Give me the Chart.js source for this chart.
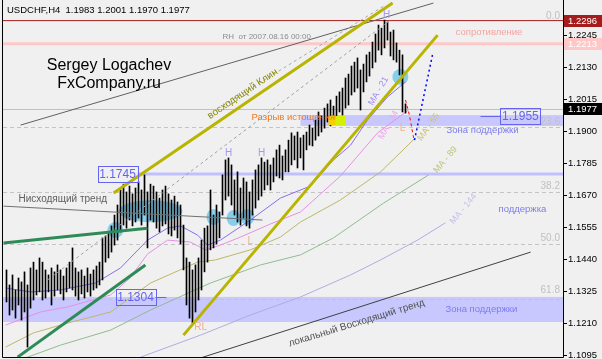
<!DOCTYPE html>
<html>
<head>
<meta charset="utf-8">
<script src="https://cdn.jsdelivr.net/npm/chart.js@4.4.0/dist/chart.umd.min.js"></script>
<style>
  html, body { margin: 0; padding: 0; background: #f0f0f0; }
</style>
</head>
<body>
<canvas id="chart" width="602" height="359"></canvas>
<script>
// H4 bars, index 0 = leftmost visible bar
const highs = [1.1401,1.1347,1.1383,1.1329,1.1372,1.1358,1.1394,1.1347,1.1408,1.1429,
  1.1401,1.1444,1.1429,1.1401,1.1383,1.1408,1.1394,1.1419,1.1401,1.1379,
  1.1408,1.1429,1.1480,1.1408,1.1394,1.1401,1.1379,1.1408,1.1386,1.1401,
  1.1415,1.1429,1.1516,1.1523,1.1537,1.1559,1.1598,1.1634,1.1688,1.1709,
  1.1681,1.1702,1.1674,1.1695,1.1717,1.1688,1.1742,1.1681,1.1709,1.1702,
  1.1681,1.1659,1.1688,1.1702,1.1674,1.1652,1.1666,1.1645,1.1634,1.1562,
  1.1444,1.1429,1.1401,1.1419,1.1444,1.1508,1.1551,1.1559,1.1688,1.1598,
  1.1634,1.1609,1.1742,1.1796,1.1803,1.1778,1.1724,1.1753,1.1695,1.1731,
  1.1717,1.1681,1.1724,1.1760,1.1778,1.1803,1.1788,1.1796,1.1778,1.1803,
  1.1832,1.1849,1.1810,1.1832,1.1867,1.1893,1.1882,1.1896,1.1875,1.1885,
  1.1896,1.1921,1.1910,1.1939,1.1968,1.1954,1.1982,1.1997,1.2011,1.1989,
  1.2025,1.2040,1.2054,1.2090,1.2104,1.2133,1.2147,1.2162,1.2119,1.2140,
  1.2173,1.2183,1.2219,1.2248,1.2280,1.2269,1.2298,1.2291,1.2255,1.2262,
  1.2216,1.2190,1.2173,1.1997];
const lows = [1.1286,1.1239,1.1257,1.1228,1.1275,1.1221,1.1250,1.1124,1.1264,1.1293,
  1.1311,1.1322,1.1293,1.1300,1.1322,1.1275,1.1307,1.1329,1.1315,1.1293,
  1.1322,1.1336,1.1329,1.1307,1.1293,1.1315,1.1300,1.1322,1.1307,1.1329,
  1.1336,1.1347,1.1365,1.1429,1.1444,1.1465,1.1490,1.1508,1.1537,1.1562,
  1.1551,1.1580,1.1559,1.1573,1.1587,1.1562,1.1598,1.1480,1.1580,1.1573,
  1.1551,1.1537,1.1559,1.1566,1.1530,1.1523,1.1544,1.1516,1.1494,1.1401,
  1.1275,1.1228,1.1210,1.1250,1.1293,1.1329,1.1394,1.1429,1.1473,1.1480,
  1.1494,1.1516,1.1598,1.1652,1.1666,1.1634,1.1598,1.1573,1.1562,1.1587,
  1.1559,1.1551,1.1598,1.1623,1.1652,1.1666,1.1688,1.1706,1.1688,1.1717,
  1.1738,1.1731,1.1724,1.1753,1.1753,1.1778,1.1796,1.1767,1.1803,1.1760,
  1.1832,1.1849,1.1846,1.1867,1.1882,1.1896,1.1910,1.1932,1.1918,1.1939,
  1.1946,1.1968,1.1957,1.1982,1.1993,1.2029,1.2040,1.2054,1.1975,1.2040,
  1.2076,1.2097,1.2126,1.2147,1.2190,1.2173,1.2198,1.2226,1.2169,1.2155,
  1.2147,1.2101,1.1968,1.1964];

// moving averages: [bar index, price]
const ma21 = [[-0.3,1.1336],[8,1.1322],[18,1.1329],[29.7,1.1354],[38,1.1408],[47,1.1508],[53.7,1.1551],
  [58,1.1559],[63.7,1.1526],[67,1.1490],[71.3,1.1508],[81.3,1.1580],[91.3,1.1659],[101.3,1.1702],
  [109,1.1796],[114.7,1.1849],[120.3,1.1939],[127,1.2022],[133,1.2076]];
const ma34 = [[-0.3,1.1203],[11.3,1.1250],[20.3,1.1268],[34.7,1.1311],[41,1.1370],[47,1.1458],[53.7,1.1508],
  [61.3,1.1501],[66.3,1.1473],[71.3,1.1490],[78,1.1519],[88,1.1566],[98,1.1609],[111.3,1.1738],
  [123.7,1.1893],[134,1.1975]];
const ma55 = [[-0.3,1.1124],[9,1.1175],[20.3,1.1210],[34.7,1.1250],[48,1.1354],[63.7,1.1429],[69.7,1.1437],
  [81.3,1.1473],[91.3,1.1519],[98,1.1573],[111.3,1.1652],[124.7,1.1753],[136.3,1.1875]];
const ma89 = [[6.3,1.1085],[18,1.1131],[34.7,1.1185],[48,1.1257],[68,1.1354],[84.7,1.1419],[98,1.1455],
  [109,1.1516],[125.7,1.1641],[140.7,1.1742]];
const ma144 = [[44.7,1.1088],[64.7,1.1167],[81.3,1.1239],[98,1.1304],[114.7,1.1383],[124.7,1.1437],
  [137,1.1508],[146.3,1.1570]];

// trend lines
const channelTop = [[4.7,1.1921],[142.3,1.2359]];
const downTrend = [[-1,1.1630],[85.3,1.1580]];
const dashA = [[13.7,1.1365],[128,1.2298]];
const dashB = [[72,1.1990],[126.3,1.2352]];
const wedgeUpper = [[35.7,1.1677],[128.7,1.2359]];
const wedgeLower = [[59,1.1167],[143.7,1.2244]];
const greenUpper = [[-1,1.1498],[47,1.1551]];
const greenLower = [[3.7,1.1088],[46.3,1.1419]];
const localUp = [[64.7,1.1085],[174.7,1.1465]];
const redPath = [[133,1.2011],[134.3,1.1957],[135.7,1.1875]];
const bluePath = [[136,1.1867],[142,1.2173]];

// price levels
const lastHigh = 1.2296;
const resistance = 1.2213;
const lastPrice = 1.1977;
const level1745 = 1.1745;
const fibLevels = [1.1913, 1.1680, 1.1494, 1.1297];
const fibNames = ['0.0', '23.6', '38.2', '50.0', '61.8'];
const fibNamePrices = [1.2313, 1.1932, 1.1702, 1.1516, 1.1329];
const zoneTop = [1.1957, 1.1918];
const zoneBottom = [1.1304, 1.1214];
const yTicks = [1.2245, 1.2130, 1.2015, 1.1900, 1.1785, 1.1670, 1.1555, 1.1440, 1.1325, 1.1210, 1.1095];

const X_MIN = -1.1667, X_MAX = 185.5;
const FONT = '"Liberation Sans", Arial, sans-serif';

function pts(arr) { return arr.map(d => ({ x: d[0], y: d[1] })); }
function lineSet(arr, color, width, order, extra) {
  return Object.assign({
    type: 'line', data: pts(arr), borderColor: color, borderWidth: width,
    pointRadius: 0, fill: false, tension: 0, order: order
  }, extra || {});
}
function hLine(v, color, width, from) {
  return lineSet([[from === undefined ? X_MIN : from, v], [X_MAX, v]], color, width, 10);
}

const notes = [
  { t: 'RH  от 2007.08.16 00:00', i: 72, p: 1.2237, c: '#8c8c8c', s: 8, a: 'left' },
  { t: 'сопротивление', i: 149.7, p: 1.2252, c: '#f4a4a4', s: 9.5, a: 'left' },
  { t: 'H', i: 74, p: 1.1821, c: '#a898f0', s: 10, a: 'center' },
  { t: 'H', i: 85, p: 1.1821, c: '#a898f0', s: 10, a: 'center' },
  { t: 'H', i: 126.7, p: 1.2316, c: '#a898f0', s: 10, a: 'center' },
  { t: 'L', i: 81.3, p: 1.1505, c: '#f0b090', s: 10, a: 'center' },
  { t: 'L', i: 132, p: 1.1910, c: '#f0b090', s: 10, a: 'center' },
  { t: 'RL', i: 64.7, p: 1.1196, c: '#f0b090', s: 10, a: 'center' },
  { t: 'Разрыв истощения', i: 81.7, p: 1.1950, c: '#f07820', s: 9.5, a: 'left' },
  { t: 'Зона поддержки', i: 146.7, p: 1.1903, c: '#7c7cf0', s: 9.5, a: 'left' },
  { t: 'Зона поддержки', i: 146.3, p: 1.1261, c: '#7c7cf0', s: 9.5, a: 'left' },
  { t: 'поддержка', i: 164, p: 1.1620, c: '#7c7cf0', s: 9.5, a: 'left' },
  { t: 'Нисходящий тренд', i: 4, p: 1.1656, c: '#606060', s: 10, a: 'left' },
  { t: 'восходящий Клин', i: 78.7, p: 1.2033, c: '#8c8a00', s: 10, a: 'center', r: -34 },
  { t: 'локальный Восходящий тренд', i: 116.7, p: 1.1210, c: '#505050', s: 10, a: 'center', r: -17 },
  { t: 'MA - 21', i: 124, p: 1.2043, c: '#a08cf0', s: 9, a: 'center', r: -60 },
  { t: 'MA - 34', i: 127.3, p: 1.1921, c: '#e8a8e8', s: 9, a: 'center', r: -60 },
  { t: 'MA - 55', i: 140.7, p: 1.1914, c: '#cac27a', s: 9, a: 'center', r: -55 },
  { t: 'MA - 89', i: 146.3, p: 1.1796, c: '#bcc880', s: 9, a: 'center', r: -50 },
  { t: 'MA - 144', i: 152.3, p: 1.1620, c: '#c8c0e8', s: 9, a: 'center', r: -50 }
];
const boxes = [
  { t: '1.1745', i: 37, p: 1.1745 },
  { t: '1.1304', i: 43, p: 1.1304, tail: 53.3 },
  { t: '1.1955', i: 171.3, p: 1.1955, lead: 158 }
];
const blobs = [
  { i: 48, p: 1.1612, rx: 32, ry: 11 },
  { i: 36.3, p: 1.1544, rx: 8, ry: 8 },
  { i: 69, p: 1.1591, rx: 7, ry: 8 },
  { i: 75.7, p: 1.1587, rx: 7, ry: 8 },
  { i: 80.3, p: 1.1591, rx: 7, ry: 8 },
  { i: 131.3, p: 1.2094, rx: 8, ry: 8 }
];

const overlay = {
  id: 'overlay',
  beforeDatasetsDraw(chart) {
    const { ctx, chartArea: a, scales: { x, y } } = chart;
    ctx.save();
    ctx.beginPath(); ctx.rect(a.left, a.top, a.width, a.height); ctx.clip();
    ctx.fillStyle = '#c8c8ff';
    const zx = x.getPixelForValue(98);
    ctx.fillRect(zx, y.getPixelForValue(zoneTop[0]), a.right - zx, y.getPixelForValue(zoneTop[1]) - y.getPixelForValue(zoneTop[0]));
    ctx.fillRect(a.left, y.getPixelForValue(zoneBottom[0]), a.width, y.getPixelForValue(zoneBottom[1]) - y.getPixelForValue(zoneBottom[0]));
    ctx.strokeStyle = '#c4c4c4'; ctx.lineWidth = 1; ctx.setLineDash([4, 3]);
    fibLevels.forEach(v => {
      const py = Math.round(y.getPixelForValue(v)) + 0.5;
      ctx.beginPath(); ctx.moveTo(a.left, py); ctx.lineTo(a.right, py); ctx.stroke();
    });
    ctx.setLineDash([]);
    ctx.fillStyle = '#87ceeb';
    blobs.forEach(b => {
      ctx.beginPath();
      ctx.ellipse(x.getPixelForValue(b.i), y.getPixelForValue(b.p), b.rx, b.ry, 0, 0, Math.PI * 2);
      ctx.fill();
    });
    ctx.restore();
  },
  afterDatasetsDraw(chart) {
    const { ctx, chartArea: a, scales: { x, y } } = chart;
    ctx.save();
    ctx.beginPath(); ctx.rect(a.left, a.top, a.width, a.height); ctx.clip();
    // yellow marker at the gap
    const my0 = y.getPixelForValue(1.1954), my1 = y.getPixelForValue(1.1921);
    ctx.fillStyle = '#f5d000';
    ctx.fillRect(x.getPixelForValue(107.3), my0, x.getPixelForValue(109.7) - x.getPixelForValue(107.3), my1 - my0);
    ctx.fillStyle = '#d4f000';
    ctx.fillRect(x.getPixelForValue(109.7), my0, x.getPixelForValue(113) - x.getPixelForValue(109.7), my1 - my0);
    ctx.textBaseline = 'middle';
    notes.forEach(n => {
      ctx.save();
      ctx.translate(x.getPixelForValue(n.i), y.getPixelForValue(n.p));
      if (n.r) ctx.rotate(n.r * Math.PI / 180);
      ctx.font = n.s + 'px ' + FONT;
      ctx.fillStyle = n.c;
      ctx.textAlign = n.a;
      ctx.fillText(n.t, 0, 0);
      ctx.restore();
    });
    ctx.font = '10px ' + FONT;
    ctx.fillStyle = '#c0c0c0';
    ctx.textAlign = 'right';
    fibNames.forEach((t, k) => ctx.fillText(t, a.right - 3, y.getPixelForValue(fibNamePrices[k])));
    ctx.font = '12px ' + FONT;
    ctx.textAlign = 'center';
    boxes.forEach(b => {
      const cx = x.getPixelForValue(b.i), cy = Math.round(y.getPixelForValue(b.p));
      ctx.strokeStyle = '#6464f0'; ctx.lineWidth = 1;
      ctx.strokeRect(Math.round(cx - 20) + 0.5, cy - 7.5, 40, 16);
      if (b.tail) { ctx.beginPath(); ctx.moveTo(cx + 20, cy + 0.5); ctx.lineTo(x.getPixelForValue(b.tail), cy + 0.5); ctx.stroke(); }
      if (b.lead) { ctx.beginPath(); ctx.moveTo(x.getPixelForValue(b.lead), cy + 0.5); ctx.lineTo(cx - 20, cy + 0.5); ctx.stroke(); }
      ctx.fillStyle = '#6464f0';
      ctx.fillText(b.t, cx, cy + 1);
    });
    ctx.restore();

    // header and watermark
    ctx.save();
    ctx.fillStyle = '#000';
    ctx.textBaseline = 'alphabetic';
    ctx.font = '9.5px ' + FONT;
    ctx.fillText('USDCHF,H4  1.1983 1.2001 1.1970 1.1977', 7, 13);
    ctx.font = '16px ' + FONT;
    ctx.textAlign = 'center';
    ctx.fillText('Sergey Logachev', 109, 70);
    ctx.fillText('FxCompany.ru', 109, 88);
    ctx.restore();

    // frame and right price axis
    ctx.save();
    ctx.strokeStyle = '#000'; ctx.lineWidth = 1;
    ctx.beginPath();
    ctx.moveTo(a.left - 0.5, a.top); ctx.lineTo(a.left - 0.5, a.bottom + 0.5);
    ctx.lineTo(a.right + 0.5, a.bottom + 0.5); ctx.lineTo(a.right + 0.5, a.top);
    ctx.stroke();
    ctx.font = '9.5px ' + FONT;
    ctx.textBaseline = 'middle';
    ctx.textAlign = 'left';
    ctx.fillStyle = '#000';
    yTicks.forEach(v => {
      const py = Math.round(y.getPixelForValue(v)) + 0.5;
      ctx.beginPath(); ctx.moveTo(a.right, py); ctx.lineTo(a.right + 4, py); ctx.stroke();
      ctx.fillText(v.toFixed(4), a.right + 5, py);
    });
    [[lastHigh, '#a41c1c', '#fff'], [resistance, '#ffc8c8', '#fff'], [lastPrice, '#000', '#fff']].forEach(m => {
      const py = Math.round(y.getPixelForValue(m[0]));
      ctx.fillStyle = m[1];
      ctx.fillRect(a.right + 1, py - 6, 39, 12);
      ctx.fillStyle = m[2];
      ctx.fillText(m[0].toFixed(4), a.right + 5, py + 0.5);
    });
    ctx.restore();
  }
};

function chartIt() {
  const ctx = document.getElementById('chart').getContext('2d');
  const barData = highs.map((h, i) => ({ x: i, y: [lows[i], h] }));
  new Chart(ctx, {
    type: 'bar',
    data: {
      datasets: [
        { type: 'bar', data: barData, backgroundColor: '#000', barThickness: 1, order: 5 },
        lineSet(ma21, '#8c6cf0', 1, 7),
        lineSet(ma34, '#e690e6', 1, 7),
        lineSet(ma55, '#bdb76b', 1, 7),
        lineSet(ma89, '#8fbc8f', 1, 7),
        lineSet(ma144, '#b4aae0', 1, 7),
        hLine(lastHigh, '#a41c1c', 1),
        hLine(resistance, '#ffc8c8', 3),
        hLine(lastPrice, '#c0c0c0', 1),
        hLine(level1745, '#c0c0ff', 3, 43.7),
        lineSet(channelTop, '#606060', 1, 2),
        lineSet(downTrend, '#707070', 1, 2),
        lineSet(dashA, '#a0a0a0', 1, 2, { borderDash: [3, 3] }),
        lineSet(dashB, '#a8a8a8', 1, 2, { borderDash: [3, 3] }),
        lineSet(wedgeUpper, '#b8b400', 3, 1),
        lineSet(wedgeLower, '#b8b400', 3, 1),
        lineSet(greenUpper, '#2e8b57', 3, 1),
        lineSet(greenLower, '#2e8b57', 3, 1),
        lineSet(localUp, '#404040', 1, 2),
        lineSet(redPath, '#ff0000', 1, 1, { borderDash: [3, 3] }),
        lineSet(bluePath, '#0000ff', 1.5, 1, { borderDash: [2, 3] })
      ]
    },
    options: {
      responsive: false,
      animation: false,
      devicePixelRatio: 1,
      layout: { padding: { left: 3, right: 39, top: 0, bottom: 2 } },
      plugins: { legend: { display: false }, tooltip: { enabled: false } },
      scales: {
        x: { type: 'linear', min: X_MIN, max: X_MAX, offset: false, display: false },
        y: { min: 1.10884, max: 1.2370, display: false }
      }
    },
    plugins: [overlay]
  });
}

chartIt();
</script>
</body>
</html>
